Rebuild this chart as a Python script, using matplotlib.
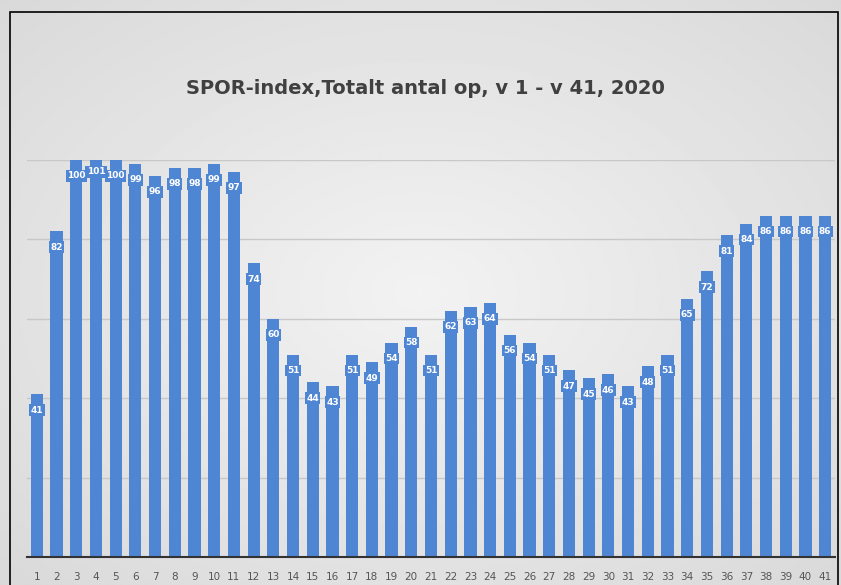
import matplotlib.pyplot as plt
import numpy as np
from matplotlib.patches import Rectangle

weeks = list(range(1, 42))
values = [41, 82, 100, 101, 100, 99, 96, 98, 98, 99, 97, 74, 60, 51, 44, 43,
          51, 49, 54, 58, 51, 62, 63, 64, 56, 54, 51, 47, 45, 46, 43, 48, 51,
          65, 72, 81, 84, 86, 86, 86, 86]
title = "SPOR-index,Totalt antal op, v 1 - v 41, 2020"

bar_color = '#4f86d4'

fig = plt.figure(figsize=(8.41, 5.85), dpi=100)

# radial grey background
bg = fig.add_axes([0, 0, 1, 1], zorder=0)
yy, xx = np.mgrid[-1:1:300j, -1:1:400j]
r = np.sqrt(xx**2 + yy**2)
bg.imshow(0.95 - 0.07 * r, cmap='gray', vmin=0, vmax=1, aspect='auto',
          extent=[0, 1, 0, 1])
bg.axis('off')

# outer frame
fig.patches.append(Rectangle((10 / 841, -0.01), 828 / 841, 1 - 12 / 585 + 0.01,
                             transform=fig.transFigure, fill=False,
                             edgecolor='black', linewidth=1.2))

ax = fig.add_axes([27 / 841, 28 / 585, 808 / 841, 397 / 585], zorder=1)
ax.patch.set_alpha(0)
x = np.arange(len(weeks))
ax.bar(x, values, width=0.62, color=bar_color, zorder=2)
for xi, v in zip(x, values):
    ax.text(xi, v - 4, str(v), ha='center', va='center', color='white',
            fontsize=6.5, fontweight='bold', zorder=3,
            bbox=dict(boxstyle='square,pad=0.15', facecolor=bar_color,
                      edgecolor='none'))

ax.set_xlim(-0.5, len(weeks) - 0.5)
ax.set_ylim(0, 100 * 397 / (557 - 160))
ax.set_yticks([20, 40, 60, 80, 100])
ax.set_yticklabels([])
ax.tick_params(axis='y', length=0)
ax.yaxis.grid(True, color='#c8c8c8', linewidth=1, zorder=0)
ax.set_xticks(x)
ax.set_xticklabels([str(w) for w in weeks], fontsize=7.5, color='#555555')
ax.tick_params(axis='x', length=0, pad=11)
for side in ['top', 'right', 'left']:
    ax.spines[side].set_visible(False)
ax.spines['bottom'].set_color('#333333')
ax.spines['bottom'].set_linewidth(1.5)

fig.text(425 / 841, 1 - 88 / 585, title, ha='center', va='center',
         fontsize=14, fontweight='bold', color='#404040')

fig.savefig('out.png', dpi=100)
